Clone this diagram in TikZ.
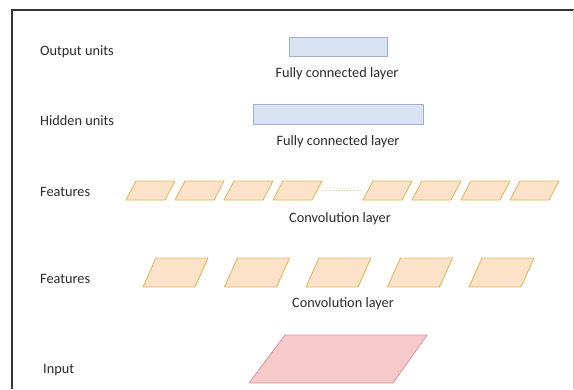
\documentclass[tikz,border=0pt]{standalone}
\usepackage{fontspec}
\setmainfont{Carlito}
\definecolor{txt}{HTML}{2A2A2A}
\definecolor{fcfill}{HTML}{DAE3F3}
\definecolor{fcline}{HTML}{9DB0CF}
\definecolor{ftfill}{HTML}{FCE2C8}
\definecolor{ftline}{HTML}{E2B85A}
\definecolor{infill}{HTML}{F7CACA}
\definecolor{inline}{HTML}{D99A98}
\tikzset{
  lbl/.style={font=\fontsize{14.3}{16}\selectfont, text=txt, inner sep=0pt},
  fcbox/.style={fill=fcfill, draw=fcline, line width=0.9pt},
  featbox/.style={fill=ftfill, draw=ftline, line width=0.9pt, line join=round},
  inbox/.style={fill=infill, draw=inline, line width=0.9pt, line join=round},
  gap/.style={draw=ftline!70, line width=0.8pt, dotted}
}
\begin{document}
\begin{tikzpicture}[x=1pt,y=-1pt]
  \useasboundingbox (0,0) rectangle (574,389);
  % frame
  \draw[line width=1.6pt, draw=black!80] (12,389) -- (12,10) -- (574,10);
  \draw[line width=1pt, draw=black!20] (573.5,10) -- (573.5,389);

  % row labels
  \node[lbl, anchor=west] (lout) at (40,52) {Output units};
  \node[lbl, anchor=west] (lhid) at (40,121) {Hidden units};
  \node[lbl, anchor=west] (lft1) at (40,192) {Features};
  \node[lbl, anchor=west] (lft2) at (40,279) {Features};
  \node[lbl, anchor=west] (lin)  at (43,370) {Input};

  % fully connected layers
  \draw[fcbox] (289,37) rectangle (387,56);
  \node[lbl] (fc1) at (337,74) {Fully connected layer};
  \draw[fcbox] (253,104) rectangle (423,124);
  \node[lbl] (fc2) at (338,142) {Fully connected layer};

  % upper feature maps
  \foreach \b [count=\i] in {126,175,224,273,363,412,461,510}{
    \draw[featbox] (\b,200) -- ++(39,0) -- ++(10,-19) -- ++(-39,0) -- cycle;
  }
  \coordinate (gapL) at (322,190.5);
  \coordinate (gapR) at (363,190.5);
  \draw[gap] (gapL) -- (gapR);
  \node[lbl] (cv1) at (340,219) {Convolution layer};

  % lower feature maps
  \foreach \b in {143,224.5,306,387.5,469}{
    \draw[featbox] (\b,287) -- ++(52,0) -- ++(13,-29) -- ++(-52,0) -- cycle;
  }
  \node[lbl] (cv2) at (343,304) {Convolution layer};

  % input image
  \draw[inbox] (249,383) -- (393,383) -- (427,335) -- (285,335) -- cycle;
\end{tikzpicture}
\end{document}
